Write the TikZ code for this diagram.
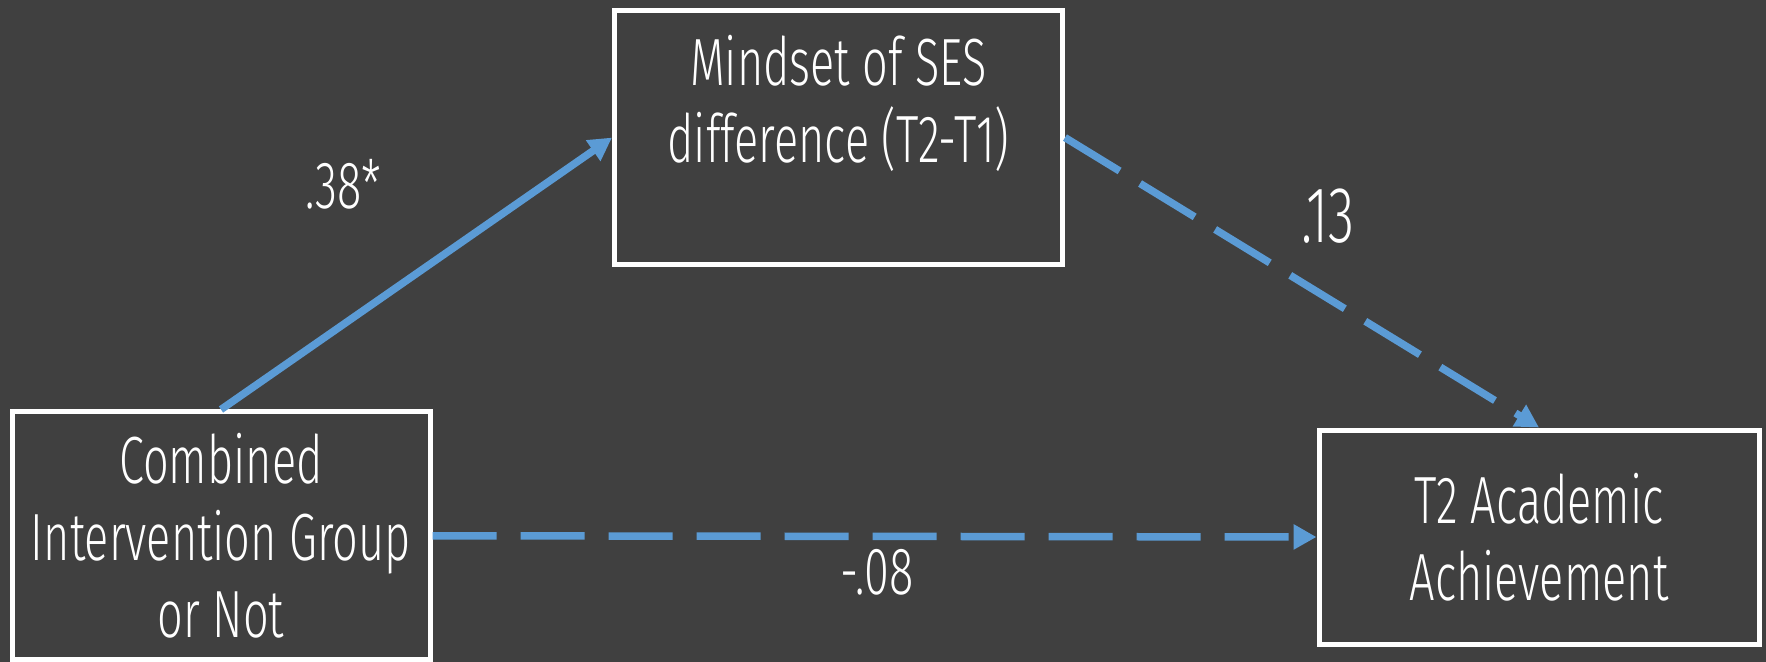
\documentclass[tikz,border=0pt]{standalone}
\usepackage{fontspec}
\setmainfont{Fira Sans}[UprightFont=* Light, FakeStretch=0.675]
\usetikzlibrary{arrows.meta}
\definecolor{bg}{HTML}{404040}
\definecolor{linkblue}{HTML}{5B9BD5}

\begin{document}
\begin{tikzpicture}[x=0.5pt,y=-0.5pt,
  box/.style={draw=white, line width=2.5pt, align=center, inner sep=0pt,
    text=white, font=\fontsize{33.4}{38.5}\selectfont},
  effect/.style={draw=linkblue, line width=3.75pt, line cap=butt,
    -{Triangle[length=11.5pt,width=12pt]}},
  effectdashed/.style={effect, dash pattern=on 32pt off 12pt},
  coef/.style={text=white, font=\fontsize{33.4}{38.5}\selectfont,
    anchor=base, inner sep=0pt}]
  % background
  \fill[bg] (0,0) rectangle (1766,662);
  \useasboundingbox (0,0) rectangle (1766,662);

  % variables
  \node[box, minimum width=224pt, minimum height=127pt] (mind) at (838.5,137.6)
    {Mindset of SES\\difference (T2-T1)\\\mbox{}};
  \node[box, minimum width=209pt, minimum height=123.75pt] (group) at (221,535.75)
    {Combined\\Intervention Group\\or Not};
  \node[box, minimum width=220pt, minimum height=107pt] (ach) at (1539,537)
    {T2 Academic\\Achievement};

  % paths
  \draw[effect] (group.north) -- (mind.west);
  \draw[effectdashed] (mind.east) -- (ach.north);
  \draw[effectdashed] (group.east) -- (ach.west);

  % coefficients
  \node[coef] (a) at (343.5,209) {.38*};
  \node[coef, font=\fontsize{39.7}{45}\selectfont] (b) at (1328,243) {.13};
  \node[coef] (c) at (877,594) {-.08};
\end{tikzpicture}
\end{document}
